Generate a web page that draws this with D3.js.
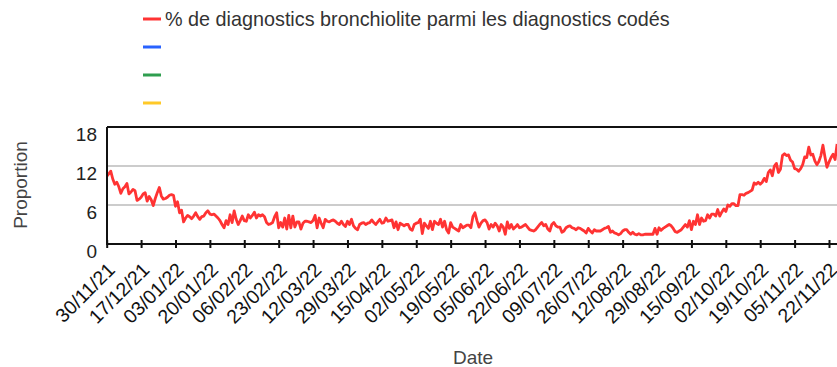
<!DOCTYPE html>
<html>
<head>
<meta charset="utf-8">
<script src="https://cdn.jsdelivr.net/npm/d3@7"></script>
<style>
  html, body { margin: 0; padding: 0; background: #fff; }
  svg { display: block; font-family: "Liberation Sans", Arial, sans-serif; }
</style>
</head>
<body>
<svg id="chart" width="837" height="367"></svg>
<script>
// First day of the daily series
const startDay = "30/11/21";

// Daily share (%) of bronchiolitis among coded diagnoses
const bronchioliteValues = [
  10.4,10.8,11.2,10.0,9.2,9.5,8.8,7.8,8.5,8.8,
  9.3,7.7,8.0,8.4,8.2,6.7,6.9,7.2,7.7,7.9,
  6.6,7.3,6.8,5.9,7.0,7.9,8.7,7.4,6.9,7.0,
  7.2,7.5,7.6,7.5,5.8,6.5,4.8,5.2,3.4,4.0,
  4.4,4.2,3.9,4.3,4.8,4.2,3.8,4.2,4.3,4.8,
  5.1,4.6,4.5,4.6,4.3,4.0,3.6,3.0,2.5,3.6,
  3.0,4.5,3.3,5.1,3.8,3.0,3.6,4.3,3.6,3.5,
  4.5,4.0,4.4,4.9,4.0,4.5,4.3,4.5,4.2,3.3,
  3.0,3.1,3.3,4.2,4.8,2.5,3.3,2.6,4.0,2.3,
  4.4,2.5,4.3,2.6,3.4,3.4,2.3,3.2,3.5,3.5,
  3.4,3.3,3.6,4.4,2.5,4.0,3.2,2.5,3.8,3.5,
  3.4,3.6,3.7,3.5,3.2,3.0,3.5,3.0,2.7,3.5,
  3.0,3.8,2.8,2.4,2.2,3.0,3.2,3.3,3.0,3.2,
  3.3,3.7,3.3,3.0,3.4,3.8,3.2,3.3,4.0,3.5,
  3.6,3.7,2.5,3.4,2.2,3.2,3.0,2.8,3.0,3.0,
  2.3,2.1,3.0,3.2,3.3,3.8,1.6,3.2,2.8,2.4,
  3.5,2.2,3.5,3.2,3.0,3.8,2.6,3.5,2.2,1.7,
  3.3,2.6,2.4,2.2,2.0,3.0,2.5,2.7,
  2.9,2.9,2.5,4.2,4.8,3.6,2.6,3.2,3.6,3.7,
  3.3,2.3,3.0,2.6,3.2,2.8,2.0,3.0,2.6,1.5,
  3.4,2.4,3.0,2.3,2.6,3.0,2.5,2.6,2.8,3.0,
  2.6,2.2,2.1,2.0,2.2,2.6,3.0,3.3,2.8,3.0,
  2.3,2.0,3.0,3.3,2.8,2.6,2.6,1.8,2.0,2.5,
  2.7,2.8,2.5,2.4,2.2,2.5,2.4,2.2,2.0,
  1.7,2.4,2.0,1.7,2.2,2.0,2.0,2.0,2.2,2.4,
  2.5,2.7,1.8,2.0,1.7,1.6,1.4,1.6,2.0,2.2,
  2.2,1.8,1.5,1.8,1.5,1.4,1.6,1.4,1.4,1.5,
  1.5,1.5,1.5,1.5,2.4,1.5,2.5,2.1,2.4,2.6,
  2.8,3.0,2.8,2.4,1.9,1.8,2.0,2.2,2.6,3.0,
  2.6,3.6,2.2,3.5,3.0,4.5,3.0,4.0,3.5,3.6,
  4.5,4.0,4.6,4.6,4.3,5.3,4.3,4.9,5.4,5.0,
  6.0,5.8,6.2,6.2,5.9,5.9,7.6,7.6,7.5,7.8,
  7.9,8.1,8.3,9.4,9.2,9.5,9.2,9.5,10.1,9.6,
  11.0,11.4,10.5,12.0,12.4,11.0,11.5,13.6,13.9,13.6,
  13.7,12.9,12.6,11.6,11.5,11.2,11.6,12.2,13.4,13.3,
  14.9,13.7,13.8,12.8,12.2,12.7,13.6,15.2,13.4,11.8,
  12.6,13.3,13.8,13.0,15.4
];

// X-axis tick labels (every 17 days)
const xTickLabels = [
  "30/11/21","17/12/21","03/01/22","20/01/22","06/02/22","23/02/22",
  "12/03/22","29/03/22","15/04/22","02/05/22","19/05/22","05/06/22",
  "22/06/22","09/07/22","26/07/22","12/08/22","29/08/22","15/09/22",
  "02/10/22","19/10/22","05/11/22","22/11/22"
];

// Y-axis ticks
const yTicks = [0, 6, 12, 18];

// Legend entries
const legendLabels = ["% de diagnostics bronchiolite parmi les diagnostics codés", "", "", ""];
const legendColors = ["#ff3333", "#2962ff", "#2f9e4f", "#ffc928"];

const parse = d3.utcParse("%d/%m/%y");
const t0 = parse(startDay);
const series = bronchioliteValues.map((v, i) => ({ date: d3.utcDay.offset(t0, i), value: v }));
const tickDates = xTickLabels.map(parse);

const svg = d3.select("#chart");
const W = 837, H = 367;
const plot = { left: 107, top: 127, bottom: 244 };

const x = d3.scaleUtc()
  .domain([tickDates[0], tickDates[tickDates.length - 1]])
  .range([106.7, 829]);
const y = d3.scaleLinear().domain([0, 18]).range([plot.bottom, plot.top]);

// Horizontal gridlines
svg.append("g").selectAll("line")
  .data(yTicks.filter(d => d > 0 && d < 18))
  .join("line")
  .attr("x1", plot.left).attr("x2", W)
  .attr("y1", d => y(d)).attr("y2", d => y(d))
  .attr("stroke", "#cccccc").attr("stroke-width", 2);

// Top frame line
svg.append("line")
  .attr("x1", plot.left).attr("x2", W)
  .attr("y1", y(18)).attr("y2", y(18))
  .attr("stroke", "#111").attr("stroke-width", 2);

// Y tick labels
svg.append("g").selectAll("text")
  .data(yTicks)
  .join("text")
  .attr("x", 97)
  .attr("y", d => y(d) + 13.5)
  .attr("text-anchor", "end")
  .attr("font-size", 19)
  .attr("fill", "#222")
  .text(d => d);

// Data line, clipped to the plot
svg.append("clipPath").attr("id", "clip")
  .append("rect").attr("x", plot.left).attr("y", 0).attr("width", W - plot.left).attr("height", plot.bottom + 2);

svg.append("path")
  .datum(series)
  .attr("clip-path", "url(#clip)")
  .attr("fill", "none")
  .attr("stroke", legendColors[0])
  .attr("stroke-width", 2.8)
  .attr("stroke-linejoin", "round")
  .attr("d", d3.line().x(d => x(d.date)).y(d => y(d.value)));

// Bottom axis
const xAxis = d3.axisBottom(x)
  .tickValues(tickDates)
  .tickSize(4)
  .tickFormat((d, i) => xTickLabels[i]);
const gx = svg.append("g").attr("transform", `translate(0,${plot.bottom})`).call(xAxis);
gx.select(".domain").attr("d", `M${plot.left},0H${W}`).attr("stroke", "#111").attr("stroke-width", 2);
gx.selectAll(".tick line").attr("y1", -4).attr("y2", 4).attr("stroke", "#111").attr("stroke-width", 2);
gx.selectAll(".tick text")
  .attr("font-size", 19.5)
  .attr("font-family", "Liberation Sans, Arial, sans-serif")
  .attr("fill", "#111")
  .attr("text-anchor", "end")
  .attr("x", 0).attr("y", 0).attr("dy", 0)
  .attr("transform", "translate(9,27) rotate(-45)");

// Left axis line
svg.append("line")
  .attr("x1", plot.left).attr("x2", plot.left)
  .attr("y1", plot.top).attr("y2", plot.bottom + 1)
  .attr("stroke", "#111").attr("stroke-width", 2);

// Axis titles
svg.append("text")
  .attr("transform", `translate(27,185) rotate(-90)`)
  .attr("text-anchor", "middle")
  .attr("font-size", 19)
  .attr("fill", "#444")
  .text("Proportion");
svg.append("text")
  .attr("x", 473).attr("y", 364)
  .attr("text-anchor", "middle")
  .attr("font-size", 19)
  .attr("fill", "#444")
  .text("Date");

// Legend
const lg = svg.append("g").selectAll("g")
  .data(legendLabels)
  .join("g")
  .attr("transform", (d, i) => `translate(143,${19 + i * 28})`);
lg.append("line")
  .attr("x1", 0).attr("x2", 18)
  .attr("stroke", (d, i) => legendColors[i])
  .attr("stroke-width", 3);
lg.append("text")
  .attr("x", 22).attr("dy", "0.35em")
  .attr("font-size", 19.8)
  .attr("fill", "#333")
  .text(d => d);
</script>
</body>
</html>
